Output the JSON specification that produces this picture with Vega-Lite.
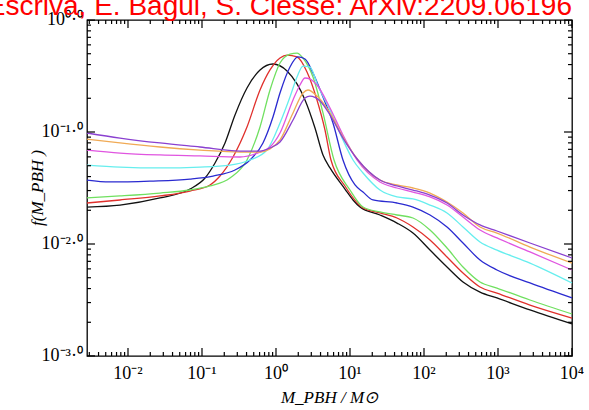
{
 "$schema": "https://vega.github.io/schema/vega-lite/v6.json",
 "width": 485, "height": 336,
 "autosize": {"type": "none"},
 "padding": {"left": 87, "top": 20, "right": 17, "bottom": 54},
 "background": "white",
 "title": {"text": "A. Escriva, E. Bagui, S. Clesse: ArXiv:2209.06196", "color": "#ff0000", "font": "Liberation Sans", "fontSize": 28, "fontWeight": "normal", "anchor": "end", "frame": "group", "offset": -10},
 "config": {"view": {"stroke": "#000", "strokeWidth": 1.3}},
 "datasets": {
  "curves": [
  {"c":"1","x":-2.554,"y":-1.670},{"c":"1","x":-2.108,"y":-1.652},{"c":"1","x":-1.568,"y":-1.589},{"c":"1","x":-1.162,"y":-1.509},{"c":"1","x":-0.959,"y":-1.411},{"c":"1","x":-0.824,"y":-1.277},{"c":"1","x":-0.689,"y":-1.098},{"c":"1","x":-0.554,"y":-0.848},{"c":"1","x":-0.392,"y":-0.607},{"c":"1","x":-0.216,"y":-0.446},{"c":"1","x":-0.041,"y":-0.393},{"c":"1","x":0.149,"y":-0.455},{"c":"1","x":0.284,"y":-0.571},{"c":"1","x":0.392,"y":-0.714},{"c":"1","x":0.527,"y":-0.964},{"c":"1","x":0.635,"y":-1.205},{"c":"1","x":0.730,"y":-1.321},{"c":"1","x":0.932,"y":-1.509},{"c":"1","x":1.041,"y":-1.607},{"c":"1","x":1.135,"y":-1.670},{"c":"1","x":1.405,"y":-1.741},{"c":"1","x":1.635,"y":-1.813},{"c":"1","x":1.851,"y":-1.902},{"c":"1","x":2.081,"y":-2.054},{"c":"1","x":2.311,"y":-2.205},{"c":"1","x":2.527,"y":-2.339},{"c":"1","x":2.757,"y":-2.429},{"c":"1","x":2.986,"y":-2.482},{"c":"1","x":3.432,"y":-2.589},{"c":"1","x":4.000,"y":-2.714},
  {"c":"2","x":-2.554,"y":-1.634},{"c":"2","x":-2.108,"y":-1.607},{"c":"2","x":-1.568,"y":-1.571},{"c":"2","x":-1.162,"y":-1.527},{"c":"2","x":-0.892,"y":-1.473},{"c":"2","x":-0.757,"y":-1.393},{"c":"2","x":-0.581,"y":-1.223},{"c":"2","x":-0.392,"y":-0.955},{"c":"2","x":-0.216,"y":-0.625},{"c":"2","x":-0.081,"y":-0.446},{"c":"2","x":0.054,"y":-0.339},{"c":"2","x":0.149,"y":-0.313},{"c":"2","x":0.284,"y":-0.330},{"c":"2","x":0.419,"y":-0.464},{"c":"2","x":0.554,"y":-0.714},{"c":"2","x":0.662,"y":-0.982},{"c":"2","x":0.743,"y":-1.250},{"c":"2","x":0.932,"y":-1.482},{"c":"2","x":1.176,"y":-1.679},{"c":"2","x":1.405,"y":-1.723},{"c":"2","x":1.635,"y":-1.768},{"c":"2","x":1.851,"y":-1.848},{"c":"2","x":2.081,"y":-1.964},{"c":"2","x":2.311,"y":-2.116},{"c":"2","x":2.527,"y":-2.259},{"c":"2","x":2.757,"y":-2.384},{"c":"2","x":2.986,"y":-2.438},{"c":"2","x":3.432,"y":-2.545},{"c":"2","x":4.000,"y":-2.661},
  {"c":"3","x":-2.554,"y":-1.589},{"c":"3","x":-2.108,"y":-1.571},{"c":"3","x":-1.568,"y":-1.545},{"c":"3","x":-1.162,"y":-1.518},{"c":"3","x":-0.892,"y":-1.482},{"c":"3","x":-0.622,"y":-1.411},{"c":"3","x":-0.392,"y":-1.250},{"c":"3","x":-0.216,"y":-0.955},{"c":"3","x":-0.081,"y":-0.625},{"c":"3","x":0.054,"y":-0.384},{"c":"3","x":0.189,"y":-0.304},{"c":"3","x":0.284,"y":-0.295},{"c":"3","x":0.365,"y":-0.339},{"c":"3","x":0.500,"y":-0.509},{"c":"3","x":0.635,"y":-0.830},{"c":"3","x":0.784,"y":-1.250},{"c":"3","x":1.000,"y":-1.518},{"c":"3","x":1.176,"y":-1.670},{"c":"3","x":1.405,"y":-1.714},{"c":"3","x":1.635,"y":-1.741},{"c":"3","x":1.851,"y":-1.768},{"c":"3","x":2.081,"y":-1.875},{"c":"3","x":2.311,"y":-2.036},{"c":"3","x":2.527,"y":-2.205},{"c":"3","x":2.757,"y":-2.339},{"c":"3","x":2.986,"y":-2.393},{"c":"3","x":3.432,"y":-2.500},{"c":"3","x":4.000,"y":-2.625},
  {"c":"4","x":-2.554,"y":-1.429},{"c":"4","x":-2.243,"y":-1.446},{"c":"4","x":-1.703,"y":-1.438},{"c":"4","x":-1.162,"y":-1.420},{"c":"4","x":-0.851,"y":-1.393},{"c":"4","x":-0.554,"y":-1.339},{"c":"4","x":-0.351,"y":-1.250},{"c":"4","x":-0.176,"y":-1.098},{"c":"4","x":-0.041,"y":-0.866},{"c":"4","x":0.054,"y":-0.652},{"c":"4","x":0.189,"y":-0.420},{"c":"4","x":0.297,"y":-0.330},{"c":"4","x":0.392,"y":-0.348},{"c":"4","x":0.500,"y":-0.473},{"c":"4","x":0.635,"y":-0.688},{"c":"4","x":0.770,"y":-0.920},{"c":"4","x":0.905,"y":-1.250},{"c":"4","x":1.068,"y":-1.473},{"c":"4","x":1.176,"y":-1.536},{"c":"4","x":1.311,"y":-1.607},{"c":"4","x":1.635,"y":-1.634},{"c":"4","x":1.851,"y":-1.670},{"c":"4","x":2.081,"y":-1.741},{"c":"4","x":2.311,"y":-1.848},{"c":"4","x":2.527,"y":-1.991},{"c":"4","x":2.757,"y":-2.143},{"c":"4","x":2.986,"y":-2.232},{"c":"4","x":3.432,"y":-2.348},{"c":"4","x":4.000,"y":-2.482},
  {"c":"5","x":-2.554,"y":-1.295},{"c":"5","x":-2.108,"y":-1.313},{"c":"5","x":-1.568,"y":-1.321},{"c":"5","x":-1.027,"y":-1.313},{"c":"5","x":-0.622,"y":-1.295},{"c":"5","x":-0.351,"y":-1.250},{"c":"5","x":-0.122,"y":-1.161},{"c":"5","x":0.054,"y":-0.920},{"c":"5","x":0.189,"y":-0.688},{"c":"5","x":0.284,"y":-0.509},{"c":"5","x":0.365,"y":-0.411},{"c":"5","x":0.459,"y":-0.420},{"c":"5","x":0.568,"y":-0.589},{"c":"5","x":0.730,"y":-0.804},{"c":"5","x":0.905,"y":-1.071},{"c":"5","x":1.041,"y":-1.250},{"c":"5","x":1.176,"y":-1.366},{"c":"5","x":1.405,"y":-1.518},{"c":"5","x":1.635,"y":-1.580},{"c":"5","x":1.851,"y":-1.598},{"c":"5","x":2.081,"y":-1.652},{"c":"5","x":2.311,"y":-1.723},{"c":"5","x":2.527,"y":-1.848},{"c":"5","x":2.757,"y":-1.982},{"c":"5","x":2.986,"y":-2.054},{"c":"5","x":3.432,"y":-2.170},{"c":"5","x":4.000,"y":-2.348},
  {"c":"6","x":-2.554,"y":-1.161},{"c":"6","x":-2.108,"y":-1.188},{"c":"6","x":-1.568,"y":-1.205},{"c":"6","x":-1.027,"y":-1.214},{"c":"6","x":-0.486,"y":-1.223},{"c":"6","x":-0.216,"y":-1.179},{"c":"6","x":-0.081,"y":-1.134},{"c":"6","x":0.054,"y":-1.009},{"c":"6","x":0.230,"y":-0.714},{"c":"6","x":0.324,"y":-0.580},{"c":"6","x":0.392,"y":-0.518},{"c":"6","x":0.459,"y":-0.527},{"c":"6","x":0.554,"y":-0.580},{"c":"6","x":0.730,"y":-0.786},{"c":"6","x":0.905,"y":-1.027},{"c":"6","x":1.095,"y":-1.250},{"c":"6","x":1.405,"y":-1.446},{"c":"6","x":1.635,"y":-1.500},{"c":"6","x":1.851,"y":-1.536},{"c":"6","x":2.081,"y":-1.580},{"c":"6","x":2.311,"y":-1.652},{"c":"6","x":2.527,"y":-1.759},{"c":"6","x":2.757,"y":-1.875},{"c":"6","x":2.986,"y":-1.946},{"c":"6","x":3.432,"y":-2.071},{"c":"6","x":4.000,"y":-2.232},
  {"c":"7","x":-2.554,"y":-1.063},{"c":"7","x":-2.108,"y":-1.098},{"c":"7","x":-1.568,"y":-1.134},{"c":"7","x":-1.027,"y":-1.161},{"c":"7","x":-0.486,"y":-1.179},{"c":"7","x":-0.216,"y":-1.179},{"c":"7","x":-0.081,"y":-1.152},{"c":"7","x":0.054,"y":-1.071},{"c":"7","x":0.230,"y":-0.830},{"c":"7","x":0.365,"y":-0.652},{"c":"7","x":0.432,"y":-0.625},{"c":"7","x":0.554,"y":-0.679},{"c":"7","x":0.730,"y":-0.830},{"c":"7","x":0.905,"y":-1.045},{"c":"7","x":1.108,"y":-1.250},{"c":"7","x":1.405,"y":-1.429},{"c":"7","x":1.635,"y":-1.473},{"c":"7","x":1.851,"y":-1.500},{"c":"7","x":2.081,"y":-1.545},{"c":"7","x":2.311,"y":-1.625},{"c":"7","x":2.527,"y":-1.723},{"c":"7","x":2.757,"y":-1.848},{"c":"7","x":2.986,"y":-1.902},{"c":"7","x":3.432,"y":-2.027},{"c":"7","x":4.000,"y":-2.170},
  {"c":"8","x":-2.554,"y":-1.009},{"c":"8","x":-2.108,"y":-1.054},{"c":"8","x":-1.568,"y":-1.098},{"c":"8","x":-1.027,"y":-1.134},{"c":"8","x":-0.486,"y":-1.170},{"c":"8","x":-0.216,"y":-1.170},{"c":"8","x":-0.081,"y":-1.143},{"c":"8","x":0.054,"y":-1.089},{"c":"8","x":0.230,"y":-0.893},{"c":"8","x":0.392,"y":-0.696},{"c":"8","x":0.459,"y":-0.679},{"c":"8","x":0.595,"y":-0.723},{"c":"8","x":0.730,"y":-0.848},{"c":"8","x":0.905,"y":-1.054},{"c":"8","x":1.108,"y":-1.250},{"c":"8","x":1.405,"y":-1.429},{"c":"8","x":1.635,"y":-1.482},{"c":"8","x":1.851,"y":-1.518},{"c":"8","x":2.081,"y":-1.563},{"c":"8","x":2.311,"y":-1.634},{"c":"8","x":2.527,"y":-1.741},{"c":"8","x":2.757,"y":-1.830},{"c":"8","x":2.986,"y":-1.884},{"c":"8","x":3.432,"y":-1.991},{"c":"8","x":4.000,"y":-2.125}
  ],
  "xticks": [
   {"t":-2.52288,"k":"minor"},{"t":-2.39794,"k":"minor"},{"t":-2.30103,"k":"minor"},{"t":-2.22185,"k":"minor"},{"t":-2.1549,"k":"minor"},{"t":-2.09691,"k":"minor"},{"t":-2.04576,"k":"minor"},{"t":-2,"k":"major"},
   {"t":-1.69897,"k":"minor"},{"t":-1.52288,"k":"minor"},{"t":-1.39794,"k":"minor"},{"t":-1.30103,"k":"minor"},{"t":-1.22185,"k":"minor"},{"t":-1.1549,"k":"minor"},{"t":-1.09691,"k":"minor"},{"t":-1.04576,"k":"minor"},{"t":-1,"k":"major"},
   {"t":-0.69897,"k":"minor"},{"t":-0.52288,"k":"minor"},{"t":-0.39794,"k":"minor"},{"t":-0.30103,"k":"minor"},{"t":-0.22185,"k":"minor"},{"t":-0.1549,"k":"minor"},{"t":-0.09691,"k":"minor"},{"t":-0.04576,"k":"minor"},{"t":0,"k":"major"},
   {"t":0.30103,"k":"minor"},{"t":0.47712,"k":"minor"},{"t":0.60206,"k":"minor"},{"t":0.69897,"k":"minor"},{"t":0.77815,"k":"minor"},{"t":0.8451,"k":"minor"},{"t":0.90309,"k":"minor"},{"t":0.95424,"k":"minor"},{"t":1,"k":"major"},
   {"t":1.30103,"k":"minor"},{"t":1.47712,"k":"minor"},{"t":1.60206,"k":"minor"},{"t":1.69897,"k":"minor"},{"t":1.77815,"k":"minor"},{"t":1.8451,"k":"minor"},{"t":1.90309,"k":"minor"},{"t":1.95424,"k":"minor"},{"t":2,"k":"major"},
   {"t":2.30103,"k":"minor"},{"t":2.47712,"k":"minor"},{"t":2.60206,"k":"minor"},{"t":2.69897,"k":"minor"},{"t":2.77815,"k":"minor"},{"t":2.8451,"k":"minor"},{"t":2.90309,"k":"minor"},{"t":2.95424,"k":"minor"},{"t":3,"k":"major"},
   {"t":3.30103,"k":"minor"},{"t":3.47712,"k":"minor"},{"t":3.60206,"k":"minor"},{"t":3.69897,"k":"minor"},{"t":3.77815,"k":"minor"},{"t":3.8451,"k":"minor"},{"t":3.90309,"k":"minor"},{"t":3.95424,"k":"minor"},{"t":3.999,"k":"major"}
  ],
  "yticks": [
   {"t":-2.999,"k":"major"},{"t":-2.69897,"k":"minor"},{"t":-2.52288,"k":"minor"},{"t":-2.39794,"k":"minor"},{"t":-2.30103,"k":"minor"},{"t":-2.22185,"k":"minor"},{"t":-2.1549,"k":"minor"},{"t":-2.09691,"k":"minor"},{"t":-2.04576,"k":"minor"},
   {"t":-2,"k":"major"},{"t":-1.69897,"k":"minor"},{"t":-1.52288,"k":"minor"},{"t":-1.39794,"k":"minor"},{"t":-1.30103,"k":"minor"},{"t":-1.22185,"k":"minor"},{"t":-1.1549,"k":"minor"},{"t":-1.09691,"k":"minor"},{"t":-1.04576,"k":"minor"},
   {"t":-1,"k":"major"},{"t":-0.69897,"k":"minor"},{"t":-0.52288,"k":"minor"},{"t":-0.39794,"k":"minor"},{"t":-0.30103,"k":"minor"},{"t":-0.22185,"k":"minor"},{"t":-0.1549,"k":"minor"},{"t":-0.09691,"k":"minor"},{"t":-0.04576,"k":"minor"},{"t":-0.001,"k":"major"}
  ],
  "xlabels": [{"t":-2,"lab":"10⁻²"},{"t":-1,"lab":"10⁻¹"},{"t":0,"lab":"10⁰"},{"t":1,"lab":"10¹"},{"t":2,"lab":"10²"},{"t":3,"lab":"10³"},{"t":4,"lab":"10⁴"}],
  "ylabels": [{"t":0,"lab":"10⁰·⁰"},{"t":-1,"lab":"10⁻¹·⁰"},{"t":-2,"lab":"10⁻²·⁰"},{"t":-3,"lab":"10⁻³·⁰"}]
 },
 "layer": [
  {"data": {"name": "curves"},
   "mark": {"type": "line", "strokeWidth": 1.3, "interpolate": "monotone"},
   "encoding": {
    "x": {"field": "x", "type": "quantitative", "scale": {"domain": [-2.554, 4], "nice": false, "zero": false}, "axis": null},
    "y": {"field": "y", "type": "quantitative", "scale": {"domain": [-3, 0], "nice": false, "zero": false}, "axis": null},
    "color": {"field": "c", "type": "nominal", "legend": null,
     "scale": {"domain": ["1","2","3","4","5","6","7","8"], "range": ["#111111","#e0302c","#70e060","#2a2ad0","#66eeee","#e055e0","#f0aa55","#8a40d0"]}}
   }},
  {"data": {"name": "xlabels"},
   "mark": {"type": "text", "font": "Liberation Serif", "fontSize": 18, "color": "#000", "align": "center", "baseline": "top", "dy": 9},
   "encoding": {
    "x": {"field": "t", "type": "quantitative", "axis": null},
    "y": {"datum": -3, "type": "quantitative", "axis": null},
    "text": {"field": "lab", "type": "nominal"}
   }},
  {"data": {"name": "ylabels"},
   "mark": {"type": "text", "font": "Liberation Serif", "fontSize": 18, "color": "#000", "align": "right", "baseline": "middle", "dx": -4},
   "encoding": {
    "y": {"field": "t", "type": "quantitative", "axis": null},
    "x": {"datum": -2.554, "type": "quantitative", "axis": null},
    "text": {"field": "lab", "type": "nominal"}
   }},
  {"data": {"values": [{"lab": "M_PBH / M⊙"}]},
   "mark": {"type": "text", "font": "Liberation Serif", "fontSize": 17, "fontStyle": "italic", "color": "#000", "align": "center", "baseline": "middle", "dy": 42},
   "encoding": {
    "x": {"datum": 0.723, "type": "quantitative", "axis": null},
    "y": {"datum": -3, "type": "quantitative", "axis": null},
    "text": {"field": "lab", "type": "nominal"}
   }},
  {"data": {"values": [{"lab": "f(M_PBH )"}]},
   "mark": {"type": "text", "font": "Liberation Serif", "fontSize": 17, "fontStyle": "italic", "color": "#000", "align": "center", "baseline": "middle", "angle": 270, "dy": -49},
   "encoding": {
    "x": {"datum": -2.554, "type": "quantitative", "axis": null},
    "y": {"datum": -1.5, "type": "quantitative", "axis": null},
    "text": {"field": "lab", "type": "nominal"}
   }},
  {"data": {"name": "xticks"}, "transform": [{"filter": "datum.k == 'major'"}],
   "mark": {"type": "rule", "stroke": "#000", "strokeWidth": 1.2, "opacity": 1},
   "encoding": {"x": {"field": "t", "type": "quantitative", "axis": null}, "y": {"datum": -3, "type": "quantitative", "axis": null}, "y2": {"datum": -2.9286}}},
  {"data": {"name": "xticks"}, "transform": [{"filter": "datum.k == 'minor'"}],
   "mark": {"type": "rule", "stroke": "#000", "strokeWidth": 1.2, "opacity": 1},
   "encoding": {"x": {"field": "t", "type": "quantitative", "axis": null}, "y": {"datum": -3, "type": "quantitative", "axis": null}, "y2": {"datum": -2.9643}}},
  {"data": {"name": "xticks"}, "transform": [{"filter": "datum.k == 'major'"}],
   "mark": {"type": "rule", "stroke": "#000", "strokeWidth": 1.2, "opacity": 1},
   "encoding": {"x": {"field": "t", "type": "quantitative", "axis": null}, "y": {"datum": 0, "type": "quantitative", "axis": null}, "y2": {"datum": -0.0714}}},
  {"data": {"name": "xticks"}, "transform": [{"filter": "datum.k == 'minor'"}],
   "mark": {"type": "rule", "stroke": "#000", "strokeWidth": 1.2, "opacity": 1},
   "encoding": {"x": {"field": "t", "type": "quantitative", "axis": null}, "y": {"datum": 0, "type": "quantitative", "axis": null}, "y2": {"datum": -0.0357}}},
  {"data": {"name": "yticks"}, "transform": [{"filter": "datum.k == 'major'"}],
   "mark": {"type": "rule", "stroke": "#000", "strokeWidth": 1.2, "opacity": 1},
   "encoding": {"y": {"field": "t", "type": "quantitative", "axis": null}, "x": {"datum": -2.554, "type": "quantitative", "axis": null}, "x2": {"datum": -2.446}}},
  {"data": {"name": "yticks"}, "transform": [{"filter": "datum.k == 'minor'"}],
   "mark": {"type": "rule", "stroke": "#000", "strokeWidth": 1.2, "opacity": 1},
   "encoding": {"y": {"field": "t", "type": "quantitative", "axis": null}, "x": {"datum": -2.554, "type": "quantitative", "axis": null}, "x2": {"datum": -2.5}}},
  {"data": {"name": "yticks"}, "transform": [{"filter": "datum.k == 'major'"}],
   "mark": {"type": "rule", "stroke": "#000", "strokeWidth": 1.2, "opacity": 1},
   "encoding": {"y": {"field": "t", "type": "quantitative", "axis": null}, "x": {"datum": 4, "type": "quantitative", "axis": null}, "x2": {"datum": 3.892}}},
  {"data": {"name": "yticks"}, "transform": [{"filter": "datum.k == 'minor'"}],
   "mark": {"type": "rule", "stroke": "#000", "strokeWidth": 1.2, "opacity": 1},
   "encoding": {"y": {"field": "t", "type": "quantitative", "axis": null}, "x": {"datum": 4, "type": "quantitative", "axis": null}, "x2": {"datum": 3.946}}}
 ]
}
